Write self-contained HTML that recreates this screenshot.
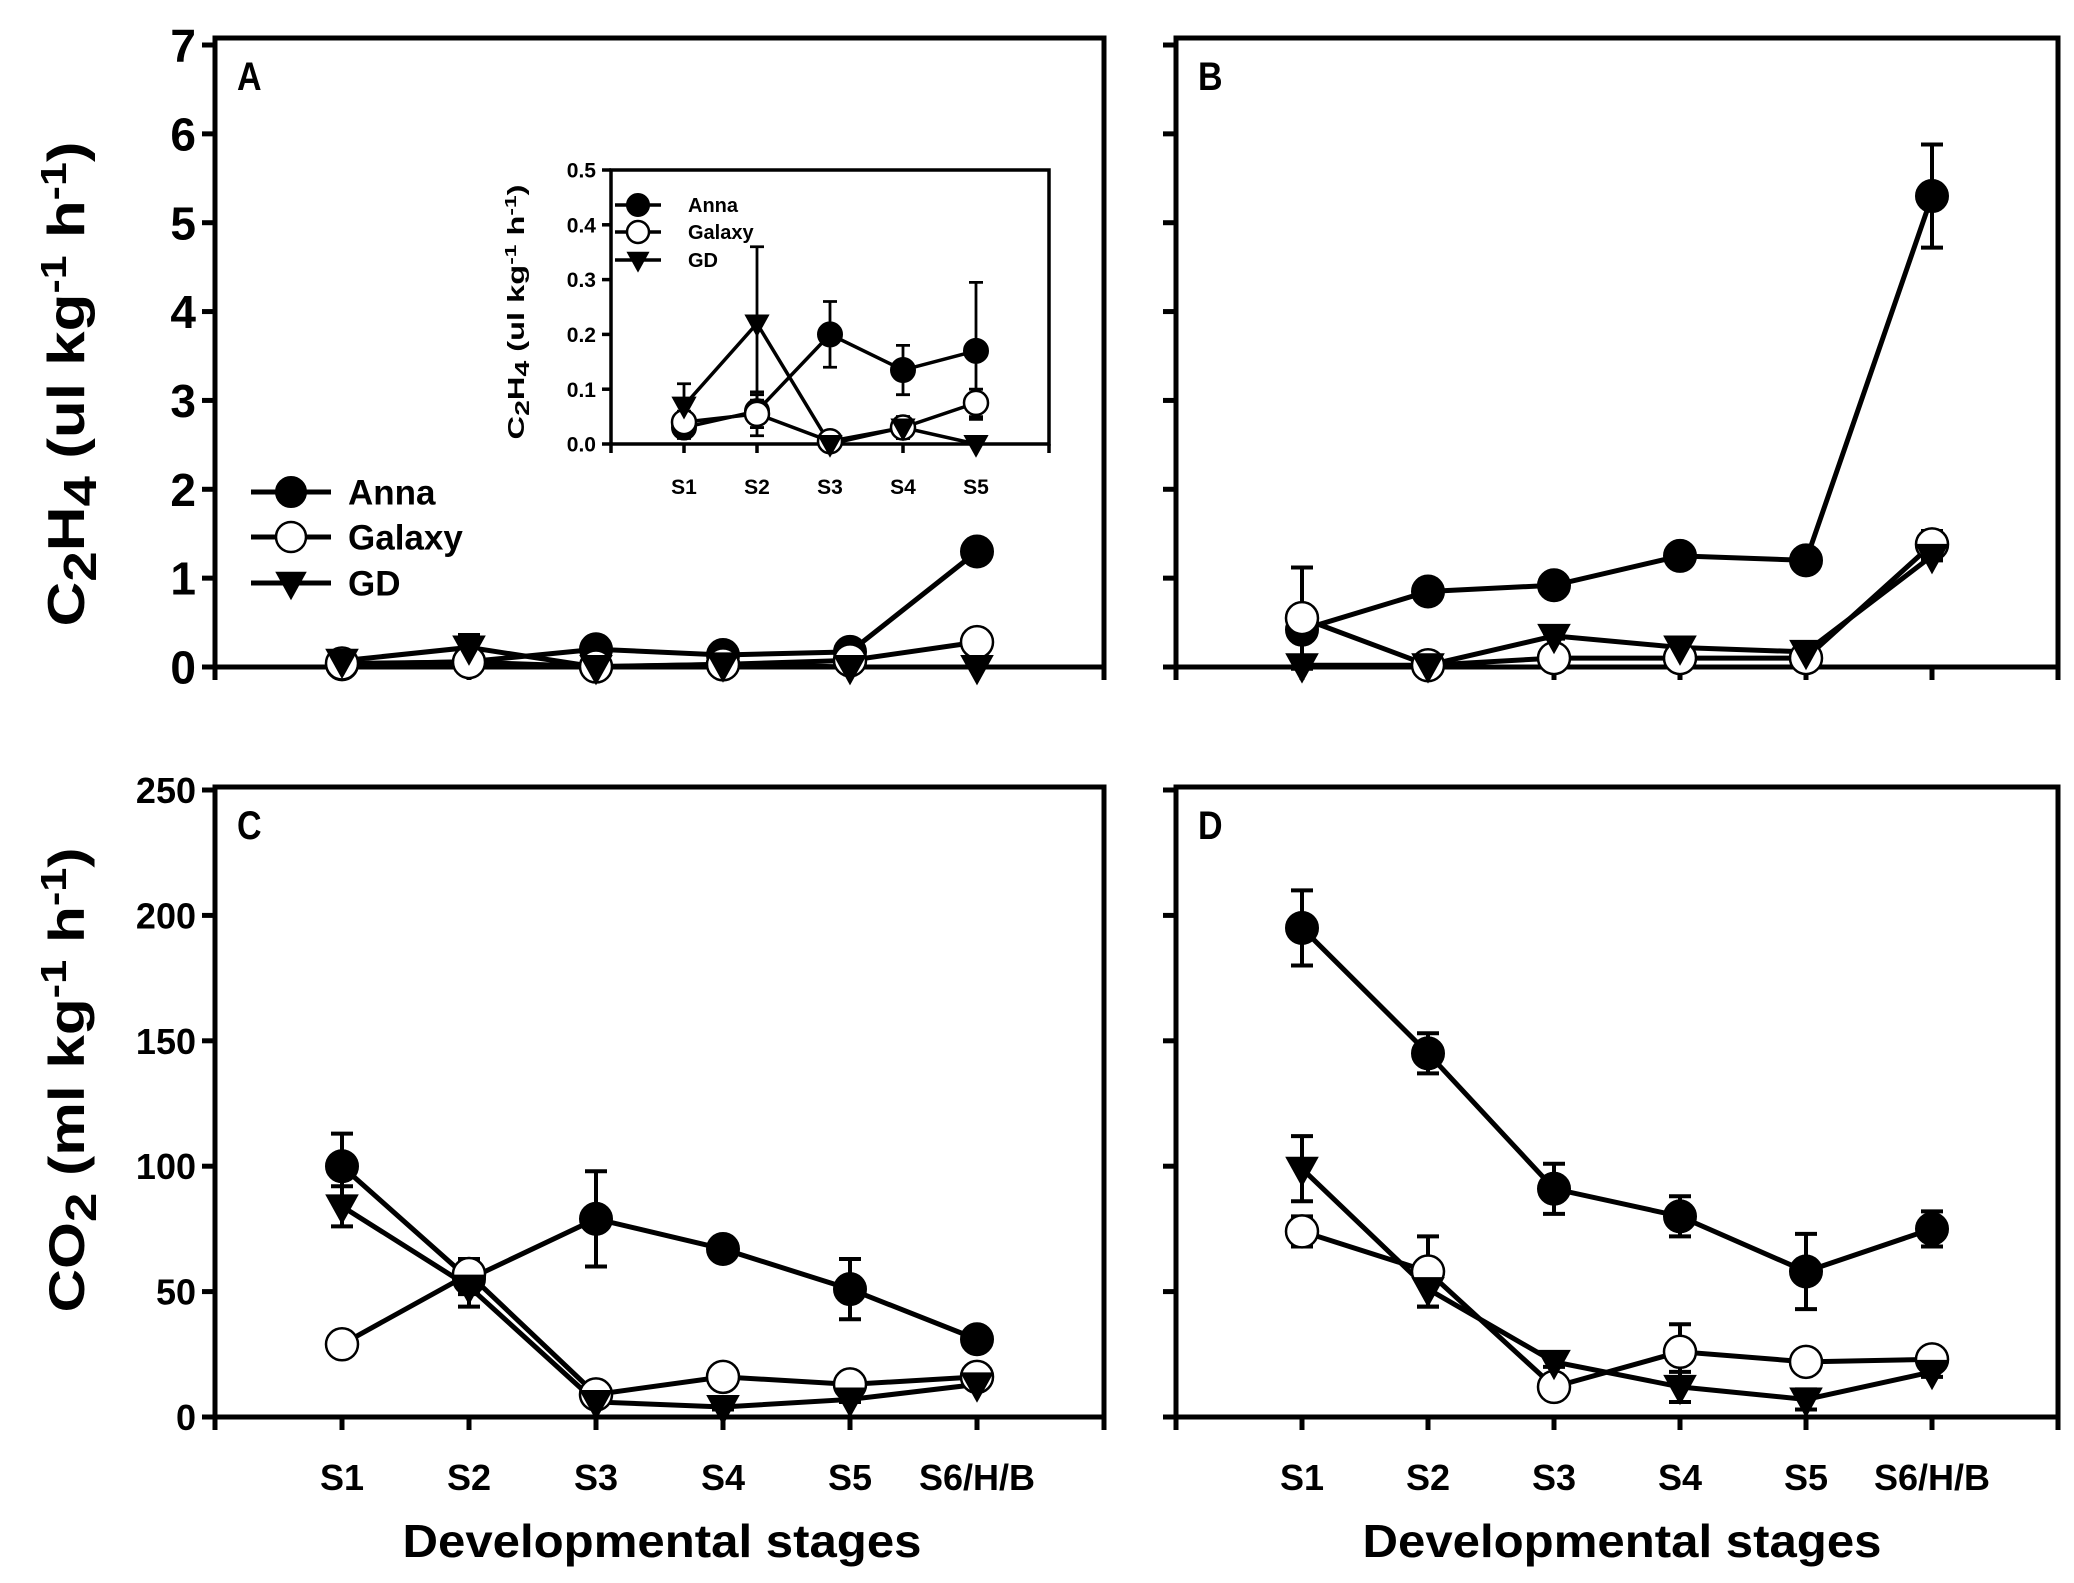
<!DOCTYPE html>
<html><head><meta charset="utf-8"><style>
html,body{margin:0;padding:0;background:#fff}
svg{display:block}
text{font-family:"Liberation Sans",Arial,sans-serif;font-weight:bold;fill:#000}
</style></head><body>
<svg id="fig" width="2074" height="1583" viewBox="0 0 2074 1583" xmlns="http://www.w3.org/2000/svg"></svg>
<script>
// ---- data ----
const stages = ["S1","S2","S3","S4","S5","S6/H/B"];
const insetStages = ["S1","S2","S3","S4","S5"];
const c2h4TicksA = ["0","1","2","3","4","5","6","7"];
const insetTicks = ["0.0","0.1","0.2","0.3","0.4","0.5"];
const co2Ticks = ["0","50","100","150","200","250"];
// Panel A
const aAnna = [0.03,0.06,0.2,0.135,0.17,1.3];
const aAnnaErr = [0.02,0.03,0.06,0.045,0.125,0.1];
const aGalaxy = [0.04,0.055,0.005,0.03,0.075,0.28];
const aGalaxyErr = [0.02,0.04,0.01,0.02,0.025,0.03];
const aGD = [0.07,0.22,0.0,0.03,0.0,0.0];
const aGDErr = [0.04,0.14,0.0,0.02,0.0,0.0];
// Panel B
const bAnna = [0.42,0.85,0.92,1.25,1.2,5.3];
const bAnnaErr = [0.1,0.05,0.05,0.06,0.05,0.58];
const bGalaxy = [0.55,0.02,0.1,0.1,0.1,1.38];
const bGalaxyErr = [0.57,0.02,0.03,0.03,0.03,0.15];
const bGD = [0.02,0.02,0.35,0.22,0.17,1.25];
const bGDErr = [0.0,0.0,0.03,0.03,0.03,0.05];
// Panel C
const cAnna = [100,55,79,67,51,31];
const cAnnaErr = [13,6,19,4,12,2];
const cGalaxy = [29,57,9,16,13,16];
const cGalaxyErr = [2,6,2,2,2,2];
const cGD = [84,52,6,4,7,13];
const cGDErr = [8,8,1,1,1,1];
// Panel D
const dAnna = [195,145,91,80,58,75];
const dAnnaErr = [15,8,10,8,15,7];
const dGalaxy = [74,58,12,26,22,23];
const dGalaxyErr = [6,14,2,11,2,2];
const dGD = [99,51,22,12,7,18];
const dGDErr = [13,7,2,6,4,2];

const NS="http://www.w3.org/2000/svg";
const svg=document.getElementById('fig');
function mk(tag,attrs,parent){const e=document.createElementNS(NS,tag);for(const k in attrs)e.setAttribute(k,attrs[k]);(parent||svg).appendChild(e);return e;}

function marker(g,type,x,y,r){
  let m;
  if(type==='anna'){m=mk('circle',{cx:x,cy:y,r:r,fill:'#000',stroke:'#000','stroke-width':2},g);}
  else if(type==='galaxy'){m=mk('circle',{cx:x,cy:y,r:r,fill:'#fff',stroke:'#000','stroke-width':2.5},g);}
  else {m=mk('polygon',{points:(x-r*1.05)+','+(y-r*0.75)+' '+(x+r*1.05)+','+(y-r*0.75)+' '+x+','+(y+r*1.15),fill:'#000'},g);}
  return m;
}

function panel(cfg){
  const g=mk('g',{});
  
  
  const X=i=>cfg.left+cfg.step*i;
  const Y=v=>cfg.y0-(v/cfg.vmax)*(cfg.y0-cfg.yTop);
  const fr=mk('rect',{x:cfg.left,y:cfg.frameTop,width:cfg.right-cfg.left,height:cfg.y0-cfg.frameTop,fill:'none',stroke:'#000','stroke-width':cfg.lw},g);
  
  
  cfg.yTicks.forEach((t,k)=>{
    const v=parseFloat(t);const y=Y(v);
    const tk=mk('line',{x1:cfg.left-cfg.tl,x2:cfg.left,y1:y,y2:y,stroke:'#000','stroke-width':cfg.lw},g);
    
    
    if(cfg.showYLabels){
      const tx=mk('text',{x:cfg.left-cfg.tl-6,y:y+cfg.yfs*0.36,'text-anchor':'end','font-size':cfg.yfs},g);
      tx.textContent=t;
      
      
    }
  });
  for(let i=0;i<=cfg.n+1;i++){
    const tk=mk('line',{x1:X(i),x2:X(i),y1:cfg.y0,y2:cfg.y0+cfg.tl,stroke:'#000','stroke-width':cfg.lw},g);
    
    
  }
  if(cfg.xLabels){
    cfg.xLabels.forEach((s,i)=>{
      const tx=mk('text',{x:X(i+1),y:cfg.xlY,'text-anchor':'middle','font-size':cfg.tfs},g);
      tx.textContent=s;
      
      
    });
  }
  const series=[['anna',cfg.anna,cfg.annaErr],['galaxy',cfg.galaxy,cfg.galaxyErr],['gd',cfg.gd,cfg.gdErr]];
  series.forEach(([type,vals,errs])=>{
    const sg=mk('g',{},g);
    
    
    vals.forEach((v,i)=>{
      const e=errs[i];if(e>0){
        const x=X(i+1);
        const eb=mk('path',{d:'M'+x+','+Y(v+e)+'V'+Y(v-e)+'M'+(x-cfg.cap)+','+Y(v+e)+'H'+(x+cfg.cap)+'M'+(x-cfg.cap)+','+Y(v-e)+'H'+(x+cfg.cap),stroke:'#000','stroke-width':cfg.lw*0.8,fill:'none'},sg);
        
        
      }
    });
    const pl=mk('polyline',{points:vals.map((v,i)=>X(i+1)+','+Y(v)).join(' '),fill:'none',stroke:'#000','stroke-width':cfg.lw},sg);
    
    
  });
  series.forEach(([type,vals])=>{
    vals.forEach((v,i)=>{
      const m=marker(g,type,X(i+1),Y(v),cfg.r);
      
      
    });
  });
  if(cfg.letter){
    const L=mk('text',{x:cfg.left+22,y:cfg.frameTop+52,'font-size':40,transform:'translate('+(cfg.left+22)+',0) scale(0.85,1) translate('+(-(cfg.left+22))+',0)'},g);
    L.textContent=cfg.letter;
    
    
  }
  return g;
}

const common={lw:5,tl:13,tfs:36,cap:11,r:16};
panel(Object.assign({},common,{name:'panel-a',letter:'A',left:215,right:1104,step:127,n:6,y0:667,yTop:45,frameTop:38,vmax:7,yfs:46,yTicks:c2h4TicksA,showYLabels:true,xLabels:null,anna:aAnna,annaErr:aAnnaErr,galaxy:aGalaxy,galaxyErr:aGalaxyErr,gd:aGD,gdErr:aGDErr}));
panel(Object.assign({},common,{name:'panel-b',letter:'B',left:1176,right:2058,step:126,n:6,y0:667,yTop:45,frameTop:38,vmax:7,yfs:46,yTicks:c2h4TicksA,showYLabels:false,xLabels:null,anna:bAnna,annaErr:bAnnaErr,galaxy:bGalaxy,galaxyErr:bGalaxyErr,gd:bGD,gdErr:bGDErr}));
panel(Object.assign({},common,{name:'panel-c',letter:'C',left:215,right:1104,step:127,n:6,y0:1417,yTop:790,frameTop:787,vmax:250,yfs:36,yTicks:co2Ticks,showYLabels:true,xLabels:stages,xlY:1490,anna:cAnna,annaErr:cAnnaErr,galaxy:cGalaxy,galaxyErr:cGalaxyErr,gd:cGD,gdErr:cGDErr}));
panel(Object.assign({},common,{name:'panel-d',letter:'D',left:1176,right:2058,step:126,n:6,y0:1417,yTop:790,frameTop:787,vmax:250,yfs:36,yTicks:co2Ticks,showYLabels:false,xLabels:stages,xlY:1490,anna:dAnna,annaErr:dAnnaErr,galaxy:dGalaxy,galaxyErr:dGalaxyErr,gd:dGD,gdErr:dGDErr}));
const inset=panel({name:'inset-chart',letter:null,lw:3.5,tl:9,tfs:21,yfs:21,cap:7,r:12,left:611,right:1049,step:73,n:5,y0:444,yTop:170,frameTop:170,vmax:0.5,yTicks:insetTicks,showYLabels:true,xLabels:insetStages,xlY:494,anna:aAnna.slice(0,5),annaErr:aAnnaErr.slice(0,5),galaxy:aGalaxy.slice(0,5),galaxyErr:aGalaxyErr.slice(0,5),gd:aGD.slice(0,5),gdErr:aGDErr.slice(0,5)});

function legend(x0,x1,tx,ys,fs,r,lw){
  const lg=mk('g',{});
  
  
  const names=['Anna','Galaxy','GD'],types=['anna','galaxy','gd'];
  names.forEach((n,k)=>{
    const eg=mk('g',{},lg);
    
    
    mk('line',{x1:x0,x2:x1,y1:ys[k],y2:ys[k],stroke:'#000','stroke-width':lw},eg);
    marker(eg,types[k],(x0+x1)/2,ys[k],r);
    const t=mk('text',{x:tx,y:ys[k]+fs*0.36,'font-size':fs},eg);
    t.textContent=n;
  });
}
legend(251,331,348,[492,537,583],35,15,5);
legend(615,661,688,[205,232,260],20,11,3.5);
</script>
<svg style="position:absolute;left:0;top:0" width="2074" height="1583" viewBox="0 0 2074 1583" xmlns="http://www.w3.org/2000/svg">
<text transform="translate(84,384) rotate(-90)" text-anchor="middle" font-size="52" textLength="485" lengthAdjust="spacingAndGlyphs">C<tspan dy="12" font-size="46">2</tspan><tspan dy="-12">H</tspan><tspan dy="12" font-size="46">4</tspan><tspan dy="-12"> (ul kg</tspan><tspan dy="-18" font-size="36">-1</tspan><tspan dy="18"> h</tspan><tspan dy="-18" font-size="36">-1</tspan><tspan dy="18">)</tspan></text>
<text transform="translate(84,1080) rotate(-90)" text-anchor="middle" font-size="50" textLength="465" lengthAdjust="spacingAndGlyphs">CO<tspan dy="12" font-size="44">2</tspan><tspan dy="-12"> (ml kg</tspan><tspan dy="-18" font-size="36">-1</tspan><tspan dy="18"> h</tspan><tspan dy="-18" font-size="36">-1</tspan><tspan dy="18">)</tspan></text>
<text transform="translate(524,312) rotate(-90)" text-anchor="middle" font-size="23" textLength="255" lengthAdjust="spacingAndGlyphs">C<tspan dy="5" font-size="20">2</tspan><tspan dy="-5">H</tspan><tspan dy="5" font-size="20">4</tspan><tspan dy="-5"> (ul kg</tspan><tspan dy="-8" font-size="16">-1</tspan><tspan dy="8"> h</tspan><tspan dy="-8" font-size="16">-1</tspan><tspan dy="8">)</tspan></text>
<text x="662" y="1557" text-anchor="middle" font-size="46" textLength="519" lengthAdjust="spacingAndGlyphs">Developmental stages</text>
<text x="1622" y="1557" text-anchor="middle" font-size="46" textLength="519" lengthAdjust="spacingAndGlyphs">Developmental stages</text>
</svg>
</body></html>
